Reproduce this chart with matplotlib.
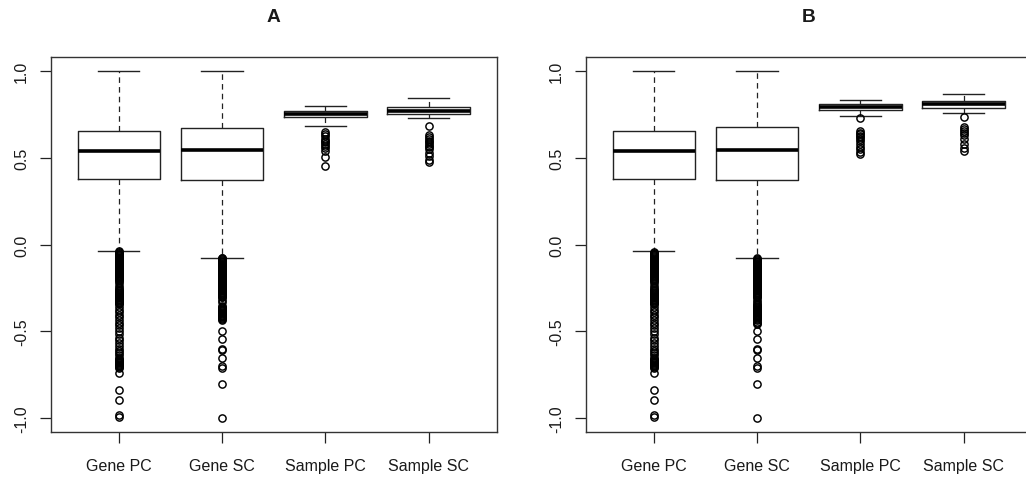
import matplotlib
matplotlib.use("Agg")
import matplotlib.pyplot as plt

plt.rcParams['font.family'] = ['Liberation Sans', 'DejaVu Sans']
plt.rcParams['lines.scale_dashes'] = False

categories = ["Gene PC", "Gene SC", "Sample PC", "Sample SC"]
titles = ["A", "B"]
yticks = [-1.0, -0.5, 0.0, 0.5, 1.0]
ytick_labels = ["-1.0", "-0.5", "0.0", "0.5", "1.0"]

# ---- Panel A summary statistics ----
A_med = [0.538, 0.545, 0.755, 0.772]
A_q1 = [0.377, 0.370, 0.738, 0.751]
A_q3 = [0.657, 0.670, 0.772, 0.792]
A_whislo = [-0.037, -0.075, 0.682, 0.728]
A_whishi = [1.0, 1.0, 0.801, 0.846]

# ---- Panel B summary statistics ----
B_med = [0.538, 0.545, 0.795, 0.808]
B_q1 = [0.377, 0.370, 0.777, 0.790]
B_q3 = [0.657, 0.676, 0.811, 0.827]
B_whislo = [-0.039, -0.079, 0.740, 0.759]
B_whishi = [1.0, 1.0, 0.836, 0.869]

# ---- Outliers ----
gene_pc_A_out = [
    -0.040, -0.045, -0.050, -0.055, -0.060, -0.065, -0.070, -0.075, -0.080, -0.085,
    -0.090, -0.095, -0.100, -0.105, -0.110, -0.115, -0.120, -0.125, -0.130, -0.135,
    -0.140, -0.145, -0.150, -0.155, -0.160, -0.165, -0.170, -0.175, -0.180, -0.185,
    -0.190, -0.195, -0.200, -0.205, -0.210,
    -0.222, -0.238, -0.252,
    -0.260, -0.265, -0.270, -0.275, -0.280, -0.285, -0.290, -0.295, -0.300, -0.305,
    -0.310, -0.315, -0.320, -0.325, -0.330, -0.335, -0.340, -0.345,
    -0.362, -0.378, -0.392, -0.404, -0.420, -0.438, -0.452, -0.466, -0.480, -0.500,
    -0.518, -0.540, -0.552, -0.570, -0.586, -0.600, -0.612, -0.626, -0.640, -0.652,
    -0.660, -0.665, -0.670, -0.675, -0.680, -0.685, -0.690, -0.695, -0.700, -0.705,
    -0.710,
    -0.740, -0.842, -0.898, -0.985, -0.995]

gene_sc_A_out = [
    -0.075, -0.080, -0.085, -0.090, -0.095, -0.100, -0.105, -0.110, -0.115, -0.120,
    -0.125, -0.130, -0.135, -0.140, -0.145, -0.150, -0.155, -0.160, -0.165, -0.170,
    -0.175, -0.180, -0.185, -0.190, -0.195, -0.200, -0.205, -0.210, -0.215, -0.220,
    -0.225, -0.230, -0.235, -0.240, -0.245, -0.250, -0.255, -0.260, -0.265, -0.270,
    -0.275, -0.280, -0.285, -0.290, -0.295, -0.300, -0.305,
    -0.318, -0.334,
    -0.355, -0.360, -0.365, -0.370, -0.375, -0.380, -0.385, -0.390, -0.395, -0.400,
    -0.405, -0.410, -0.415, -0.420, -0.425, -0.430, -0.436,
    -0.497, -0.543, -0.600, -0.610, -0.653, -0.700, -0.712, -0.802, -1.000]

gene_pc_B_out = [
    -0.042, -0.047, -0.052, -0.057, -0.062, -0.067, -0.072, -0.077, -0.082, -0.087,
    -0.092, -0.097, -0.102, -0.107, -0.112, -0.117, -0.122, -0.127, -0.132, -0.137,
    -0.142, -0.147, -0.152, -0.157, -0.162, -0.167, -0.172, -0.177, -0.182, -0.187,
    -0.192, -0.197, -0.202, -0.207, -0.212,
    -0.222, -0.238, -0.252,
    -0.260, -0.265, -0.270, -0.275, -0.280, -0.285, -0.290, -0.295, -0.300, -0.305,
    -0.310, -0.315, -0.320, -0.325, -0.330, -0.335, -0.340, -0.345,
    -0.362, -0.378, -0.392, -0.404, -0.420, -0.438, -0.452, -0.466, -0.480, -0.500,
    -0.518, -0.540, -0.552, -0.570, -0.586, -0.600, -0.612, -0.626, -0.640, -0.652,
    -0.660, -0.665, -0.670, -0.675, -0.680, -0.685, -0.690, -0.695, -0.700, -0.705,
    -0.710,
    -0.740, -0.842, -0.898, -0.985, -0.995]

gene_sc_B_out = [
    -0.080, -0.085, -0.090, -0.095, -0.100, -0.105, -0.110, -0.115, -0.120, -0.125,
    -0.130, -0.135, -0.140, -0.145, -0.150, -0.155, -0.160, -0.165, -0.170, -0.175,
    -0.180, -0.185, -0.190, -0.195, -0.200, -0.205, -0.210, -0.215, -0.220, -0.225,
    -0.230, -0.235, -0.240, -0.245, -0.250, -0.255, -0.260, -0.265, -0.270, -0.275,
    -0.280, -0.285, -0.290, -0.295, -0.300, -0.305,
    -0.318, -0.332,
    -0.345, -0.350, -0.355, -0.360, -0.365, -0.370, -0.375, -0.380, -0.385, -0.390,
    -0.395, -0.400, -0.405, -0.410, -0.415, -0.420, -0.425, -0.430, -0.436, -0.445,
    -0.452, -0.460,
    -0.500, -0.543, -0.600, -0.610, -0.653, -0.700, -0.712, -0.802, -1.000]

sample_pc_A_out = [0.647, 0.635, 0.624, 0.608, 0.598, 0.590, 0.580, 0.570, 0.555,
                   0.541, 0.503, 0.454]
sample_sc_A_out = [0.686, 0.632, 0.620, 0.609, 0.600, 0.590, 0.580, 0.570, 0.560,
                   0.551, 0.530, 0.512, 0.490, 0.474]
sample_pc_B_out = [0.728, 0.657, 0.645, 0.637, 0.628, 0.620, 0.609, 0.595, 0.580,
                   0.565, 0.551, 0.536, 0.522]
sample_sc_B_out = [0.734, 0.676, 0.665, 0.655, 0.645, 0.630, 0.609, 0.580, 0.555,
                   0.541]

A_out = [gene_pc_A_out, gene_sc_A_out, sample_pc_A_out, sample_sc_A_out]
B_out = [gene_pc_B_out, gene_sc_B_out, sample_pc_B_out, sample_sc_B_out]

panels = [
    (A_med, A_q1, A_q3, A_whislo, A_whishi, A_out),
    (B_med, B_q1, B_q3, B_whislo, B_whishi, B_out),
]

W, H = 1026, 481
fig = plt.figure(figsize=(W / 100, H / 100), dpi=100)

ax_lefts = [50.7, 585.7]
ax_w = 446.0
ax_top, ax_bot = 58.3, 432.7

textc = "#1a1a1a"
linec = "#222222"

for i, (med, q1, q3, wlo, whi, outs) in enumerate(panels):
    ax = fig.add_axes([ax_lefts[i] / W, (H - ax_bot) / H, ax_w / W, (ax_bot - ax_top) / H])
    stats = []
    for k in range(len(categories)):
        stats.append(dict(med=med[k], q1=q1[k], q3=q3[k], whislo=wlo[k],
                          whishi=whi[k], fliers=outs[k], label=categories[k]))
    ax.bxp(stats, positions=[1, 2, 3, 4], widths=0.8, capwidths=0.4,
           showfliers=True, patch_artist=False,
           boxprops=dict(color=linec, linewidth=1.0),
           medianprops=dict(color="black", linewidth=2.6, solid_capstyle="butt"),
           whiskerprops=dict(color=linec, linewidth=0.9, linestyle=(0, (4, 3))),
           capprops=dict(color=linec, linewidth=1.0),
           flierprops=dict(marker="o", markerfacecolor="none", markeredgecolor="black",
                           markersize=5.2, markeredgewidth=1.05, linestyle="none"))
    ax.set_xlim(0.34, 4.66)
    ax.set_ylim(-1.08, 1.08)
    ax.set_yticks(yticks)
    ax.set_yticklabels(ytick_labels, rotation=90, va="center", fontsize=11.5, color=textc)
    ax.set_xticks([1, 2, 3, 4])
    ax.set_xticklabels(categories, fontsize=11.5, color=textc)
    ax.tick_params(axis="both", direction="out", length=7.7, width=0.9, color=linec)
    ax.tick_params(axis="y", pad=7.8)
    ax.tick_params(axis="x", pad=11)
    for s in ax.spines.values():
        s.set_color("#333333")
        s.set_linewidth(1.0)
    ax.set_title(titles[i], fontsize=13.8, fontweight="bold", color=textc, pad=26)

fig.savefig("out.png", dpi=100)
